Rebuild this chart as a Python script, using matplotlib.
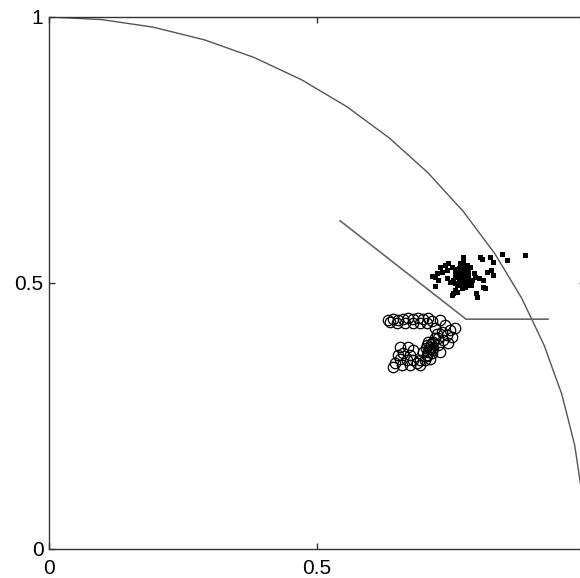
import numpy as np
import matplotlib
matplotlib.use("Agg")
import matplotlib.pyplot as plt

plt.rcParams.update({
    "font.family": ["Liberation Sans", "DejaVu Sans"],
    "font.size": 15,
})

# reference quarter circle (unit radius, 16 segments)
n_seg = 16

# boundary polyline
line_x = [0.543, 0.778, 0.931]
line_y = [0.617, 0.432, 0.432]

# filled points
dots_x = [0.773, 0.804, 0.807, 0.823, 0.845, 0.854, 0.888, 0.828, 0.824, 0.817,
          0.829, 0.810, 0.803, 0.813, 0.809, 0.797, 0.798, 0.754, 0.751, 0.761,
          0.723, 0.720, 0.714, 0.726, 0.720, 0.739, 0.745, 0.751, 0.757, 0.742,
          0.748, 0.767, 0.773, 0.779, 0.785, 0.770, 0.776, 0.782, 0.764, 0.767,
          0.773, 0.779, 0.761, 0.770, 0.782, 0.789, 0.792, 0.754, 0.757, 0.777,
          0.787, 0.795, 0.742, 0.734, 0.729, 0.773, 0.770, 0.776, 0.764, 0.768,
          0.775, 0.780, 0.771, 0.765, 0.778, 0.760, 0.766, 0.772, 0.769, 0.763,
          0.774, 0.758, 0.781, 0.766, 0.771, 0.762, 0.757, 0.775, 0.769, 0.764]
dots_y = [0.549, 0.549, 0.546, 0.549, 0.555, 0.543, 0.553, 0.540, 0.524, 0.521,
          0.515, 0.506, 0.509, 0.490, 0.493, 0.481, 0.474, 0.481, 0.477, 0.484,
          0.518, 0.512, 0.513, 0.506, 0.494, 0.534, 0.537, 0.531, 0.524, 0.509,
          0.502, 0.537, 0.540, 0.534, 0.531, 0.528, 0.521, 0.515, 0.515, 0.506,
          0.499, 0.502, 0.496, 0.490, 0.509, 0.506, 0.518, 0.506, 0.487, 0.493,
          0.496, 0.512, 0.524, 0.521, 0.531, 0.512, 0.518, 0.509, 0.502, 0.524,
          0.526, 0.520, 0.505, 0.510, 0.497, 0.512, 0.507, 0.503, 0.514, 0.519,
          0.508, 0.500, 0.524, 0.498, 0.516, 0.526, 0.515, 0.530, 0.535, 0.529]

# open circles
circ_x = [0.633, 0.642, 0.652, 0.661, 0.670, 0.680, 0.689, 0.698, 0.708, 0.714,
          0.636, 0.649, 0.664, 0.680, 0.692, 0.705,
          0.729, 0.739, 0.748, 0.757, 0.742, 0.733, 0.723, 0.751, 0.736, 0.745,
          0.726, 0.717, 0.729, 0.720, 0.726,
          0.705, 0.711, 0.708, 0.714, 0.705, 0.711, 0.701, 0.717, 0.720, 0.708,
          0.714, 0.698, 0.692, 0.710, 0.706, 0.713, 0.703,
          0.655, 0.670, 0.680, 0.661, 0.674, 0.655, 0.667, 0.680, 0.692, 0.646,
          0.658, 0.674, 0.686, 0.642, 0.652]
circ_y = [0.430, 0.432, 0.430, 0.432, 0.434, 0.432, 0.434, 0.432, 0.434, 0.429,
          0.426, 0.424, 0.424, 0.424, 0.424, 0.424,
          0.430, 0.421, 0.412, 0.415, 0.402, 0.408, 0.405, 0.399, 0.393, 0.387,
          0.383, 0.377, 0.371, 0.415, 0.396,
          0.383, 0.380, 0.371, 0.368, 0.365, 0.358, 0.355, 0.390, 0.396, 0.390,
          0.374, 0.371, 0.346, 0.376, 0.362, 0.385, 0.377,
          0.380, 0.380, 0.374, 0.368, 0.365, 0.358, 0.355, 0.355, 0.355, 0.349,
          0.346, 0.346, 0.349, 0.343, 0.365]

fig = plt.figure(figsize=(5.8, 5.78), dpi=100)
ax = fig.add_axes([49/580, 29/578, 536/580, 532/578])

theta = np.linspace(0, np.pi/2, n_seg + 1)
ax.plot(np.cos(theta), np.sin(theta), color='#555555', lw=1.0)
ax.plot(line_x, line_y, color='#666666', lw=1.2)
ax.plot(dots_x, dots_y, 's', color='black', ms=3.6, mew=0)
ax.plot(circ_x, circ_y, 'o', mfc='none', mec='black', ms=7.5, mew=0.9)

ax.set_xlim(0, 1)
ax.set_ylim(0, 1)
ax.set_xticks([0, 0.5, 1])
ax.set_yticks([0, 0.5, 1])
ax.set_xticklabels(['0', '0.5', '1'])
ax.set_yticklabels(['0', '0.5', '1'])
ax.tick_params(direction='in', length=4, width=1, top=True, right=True,
               colors='#333333', labelcolor='black')
ax.tick_params(axis='x', pad=7)
ax.tick_params(axis='y', pad=4)
for s in ax.spines.values():
    s.set_color('#333333')
    s.set_linewidth(1.0)

fig.savefig('out.png', dpi=100)
